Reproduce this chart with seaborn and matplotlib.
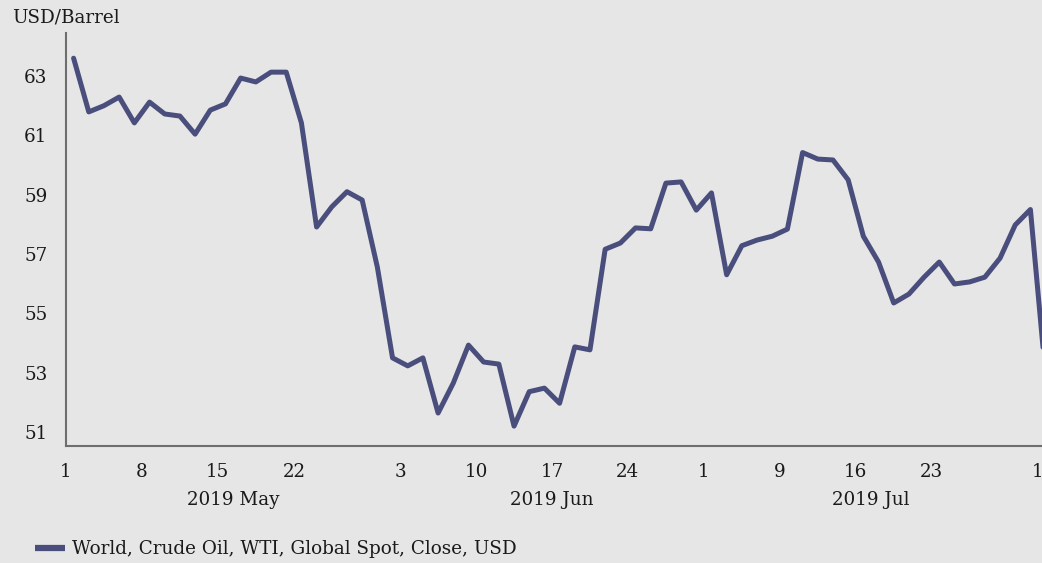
import matplotlib
matplotlib.use("Agg")
import matplotlib.pyplot as plt
import matplotlib.ticker as mticker
import seaborn as sns
import pandas as pd
import numpy as np

# ---------------- data ----------------
holidays = ["2019-05-27", "2019-07-04"]
dates = [d for d in pd.bdate_range("2019-05-01", "2019-08-01") if d.strftime("%Y-%m-%d") not in holidays]

may_values = [63.60, 61.79, 62.00, 62.29, 61.42, 62.12, 61.72, 61.65, 61.04, 61.85, 62.06,
              62.93, 62.80, 63.13, 63.13, 61.42, 57.91, 58.59, 59.10, 58.82, 56.56, 53.50]
jun_values = [53.23, 53.50, 51.64, 52.65, 53.93, 53.36, 53.29, 51.20, 52.36, 52.48,
              51.97, 53.87, 53.77, 57.16, 57.37, 57.88, 57.85, 59.39, 59.43, 58.48]
jul_values = [59.06, 56.30, 57.28, 57.47, 57.60, 57.84, 60.42, 60.20, 60.17, 59.50, 57.60,
              56.73, 55.35, 55.65, 56.22, 56.73, 55.99, 56.06, 56.22, 56.86, 57.98, 58.50]
aug_values = [52.90]
values = may_values + jun_values + jul_values + aug_values

tick_dates = ["2019-05-01", "2019-05-08", "2019-05-15", "2019-05-22", "2019-06-03", "2019-06-10",
              "2019-06-17", "2019-06-24", "2019-07-01", "2019-07-09", "2019-07-16", "2019-07-23",
              "2019-08-01"]
month_start_dates = ["2019-05-01", "2019-06-03", "2019-07-01", "2019-08-01"]
month_labels = ["2019 May", "2019 Jun", "2019 Jul"]
y_major = [51, 53, 55, 57, 59, 61, 63]
y_minor = [52, 54, 56, 58, 60, 62, 64]
series_name = "World, Crude Oil, WTI, Global Spot, Close, USD"
unit_label = "USD/Barrel"

df = pd.DataFrame({"date": dates, "value": values})
df["pos"] = np.arange(len(df))
date_str = [d.strftime("%Y-%m-%d") for d in dates]

# ---------------- style ----------------
BG = "#e6e6e6"
LINE = "#4a4e7c"
TXT = "#1a1a1a"
sns.set_style("white", rc={"axes.facecolor": BG, "figure.facecolor": BG})
plt.rcParams["font.family"] = ["DejaVu Serif"]
FS = 13.2

W, H = 1042, 563
fig = plt.figure(figsize=(W / 100, H / 100), dpi=100)
ax_left, ax_right, ax_top, ax_bottom = 66, 1042, 33, 446
ax = fig.add_axes([ax_left / W, 1 - ax_bottom / H, (ax_right - ax_left) / W, (ax_bottom - ax_top) / H])
ax.set_facecolor(BG)

sns.lineplot(data=df, x="pos", y="value", ax=ax, color=LINE, linewidth=3.6,
             label=series_name, legend=False)

px_per_day = (1038 - 66) / 64.0
ax.set_xlim(-0.5, -0.5 + (ax_right - ax_left) / px_per_day)
px_per_unit = 29.67
ax.set_ylim(63 - (ax_bottom - 76) / px_per_unit, 63 + (76 - ax_top) / px_per_unit)

# x ticks at band starts
tpos = [date_str.index(d) - 0.5 for d in tick_dates]
tlab = [str(int(d[-2:])) for d in tick_dates]
ax.xaxis.set_major_locator(mticker.FixedLocator(tpos))
ax.xaxis.set_major_formatter(mticker.FixedFormatter(tlab))
mpos = [date_str.index(d) - 0.5 for d in month_start_dates]
ax.xaxis.set_minor_locator(mticker.FixedLocator(mpos))
ax.xaxis.set_minor_formatter(mticker.NullFormatter())
ax.tick_params(axis="x", which="major", length=3, width=1.2, color="#222222",
               direction="out", pad=9, labelsize=FS, labelcolor=TXT)
ax.tick_params(axis="x", which="minor", length=7, width=1.2, color="#222222", direction="out")

ax.yaxis.set_major_locator(mticker.FixedLocator(y_major))
ax.yaxis.set_minor_locator(mticker.FixedLocator(y_minor))
ax.yaxis.set_minor_formatter(mticker.NullFormatter())
ax.tick_params(axis="y", which="both", length=6.5, width=1.2, color="#222222",
               direction="out", pad=7, labelsize=FS, labelcolor=TXT)

ax.set_xlabel("")
ax.set_ylabel("")
for s in ["top", "right"]:
    ax.spines[s].set_visible(False)
for s in ["left", "bottom"]:
    ax.spines[s].set_color("#6e6e6e")
    ax.spines[s].set_linewidth(1.5)

# month labels
starts = [date_str.index(d) for d in month_start_dates]
for i, lab in enumerate(month_labels):
    xc = (starts[i] - 0.5 + starts[i + 1] - 0.5) / 2.0
    ax.annotate(lab, xy=(xc, 0), xycoords=("data", "axes fraction"),
                xytext=(0, -54 * 0.72), textcoords="offset points",
                ha="center", va="center", fontsize=FS, color=TXT, annotation_clip=False)

fig.text(12 / W, 1 - 17 / H, unit_label, ha="left", va="center", fontsize=FS, color=TXT)

handles, labels = ax.get_legend_handles_labels()
fs_px = FS * 100 / 72
leg = fig.legend(handles, labels, loc="center left", bbox_to_anchor=(35 / W, 1 - 549 / H),
                 frameon=False, fontsize=FS, borderpad=0, borderaxespad=0,
                 handlelength=30 / fs_px, handletextpad=7 / fs_px, labelcolor=TXT)
for l in leg.get_lines():
    l.set_linewidth(4.5)
    l.set_solid_capstyle("butt")

fig.savefig("out.png", dpi=100, facecolor=BG)
